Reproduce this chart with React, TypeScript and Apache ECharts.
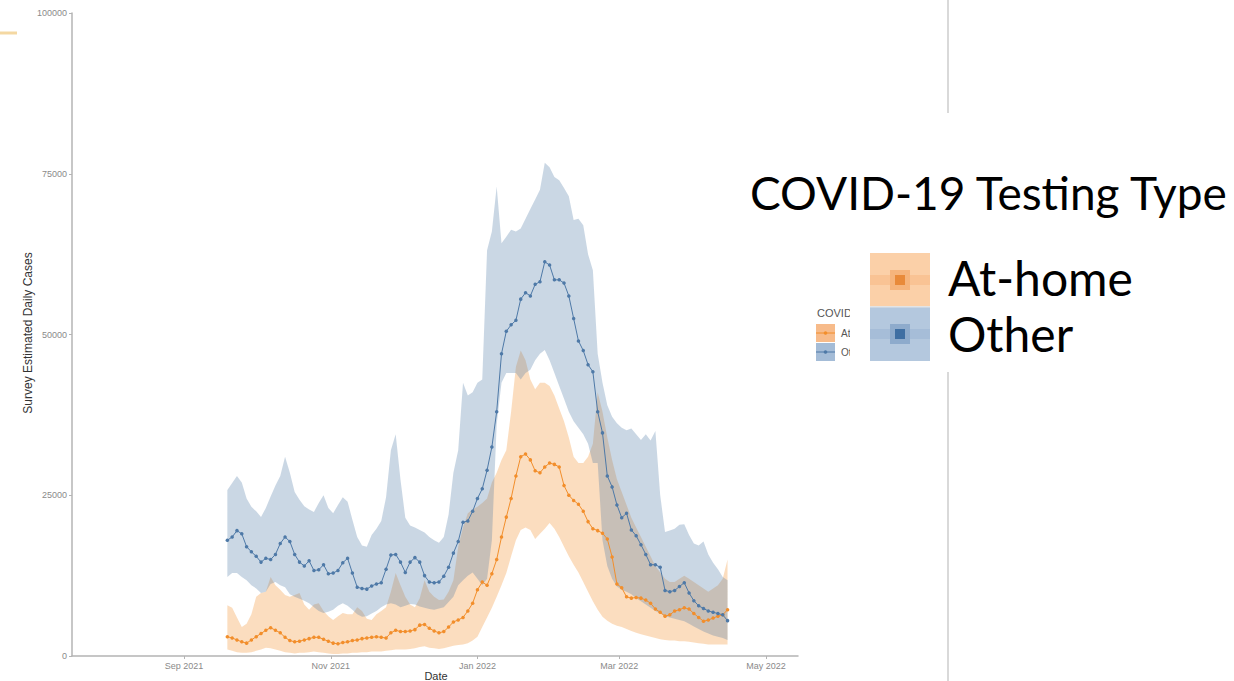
import React, { useEffect, useRef } from "react";
import * as echarts from "echarts";

const DAY = 86400000;
const START_DATE = Date.UTC(2021, 8, 19);
const STEP_DAYS = 2;

// Survey estimated daily cases, in thousands, one value every two days
const homeMean = [
  3.0, 2.8, 2.5, 2.2, 2.0, 2.5, 3.0, 3.5, 4.0, 4.4,
  4.0, 3.6, 2.9, 2.4, 2.2, 2.3, 2.5, 2.7, 2.9, 2.9,
  2.6, 2.3, 2.0, 1.9, 2.1, 2.2, 2.4, 2.5, 2.7, 2.8,
  2.9, 3.0, 2.9, 2.8, 3.6, 4.0, 3.8, 3.8, 3.9, 4.1,
  4.8, 4.9, 4.3, 3.9, 3.6, 3.8, 4.5, 5.3, 5.6, 6.0,
  7.0, 8.2, 10.3, 11.5, 11.0, 12.8, 15.0, 18.5, 21.6, 24.5,
  28.0, 31.0, 31.4, 30.5, 28.8, 28.5, 29.4, 30.0, 29.8, 29.4,
  26.5, 25.0, 24.2, 23.6, 22.5, 20.9, 19.8, 19.5, 19.1, 18.2,
  15.4, 11.2, 10.6, 9.2, 9.0, 9.1, 9.0, 8.7, 8.2, 7.3,
  6.8, 6.2, 6.4, 7.0, 7.2, 7.5, 7.3, 6.6, 6.0, 5.4,
  5.6, 5.9, 6.2, 6.4, 7.2,
];
const homeUpper = [
  7.9, 7.5, 6.0, 4.5, 5.0, 6.5, 9.2, 9.8, 10.0, 12.3,
  11.0, 10.3, 9.5, 9.2, 9.5, 9.8, 8.0, 7.2, 8.0, 8.2,
  7.0, 6.2, 5.6, 6.2, 6.7, 6.5, 6.5, 7.6, 7.0, 5.8,
  5.6, 6.5, 7.0, 7.6, 10.0, 12.9, 11.0, 9.2, 8.0, 7.6,
  9.0, 11.8, 10.0, 9.2, 8.7, 8.8, 10.0, 11.8, 17.0, 20.0,
  22.2, 22.8, 23.2, 23.8, 24.5, 27.0, 28.5, 30.5, 32.0, 38.0,
  45.0, 47.5, 46.0, 43.0, 41.5, 42.5, 42.5, 42.0, 40.5, 38.5,
  36.5, 34.0, 31.0, 30.0, 30.0, 31.0, 33.0, 41.0, 38.0, 34.0,
  30.5, 27.5, 25.5, 23.5, 21.5, 20.0, 18.5, 17.0, 15.5, 14.0,
  13.0, 12.0, 11.5, 11.5, 12.0, 12.5, 12.0, 11.5, 11.0, 10.5,
  10.0, 10.5, 11.0, 12.0, 15.0,
];
const homeLower = [
  1.0, 0.8, 0.6, 0.5, 0.5, 0.6, 0.8, 1.0, 1.3, 1.2,
  1.0, 0.8, 0.6, 0.5, 0.4, 0.5, 0.5, 0.6, 0.7, 0.6,
  0.5, 0.4, 0.3, 0.3, 0.4, 0.4, 0.5, 0.5, 0.6, 0.6,
  0.7, 0.7, 0.7, 0.8, 0.9, 1.0, 1.0, 1.0, 1.1, 1.2,
  1.4, 1.5, 1.3, 1.2, 1.1, 1.2, 1.4, 1.6, 1.7, 1.8,
  2.0, 2.4, 3.0, 4.5, 6.0, 7.5, 9.2, 11.0, 12.9, 15.5,
  18.0, 19.6, 20.0, 19.6, 18.2, 19.0, 19.8, 20.7, 19.8, 18.5,
  17.0, 15.5, 14.2, 13.0, 11.5, 10.0, 8.5, 7.2, 6.1, 5.5,
  5.0, 4.7, 4.5, 4.2, 3.9, 3.6, 3.4, 3.2, 3.0, 2.8,
  2.6, 2.5, 2.4, 2.4, 2.3, 2.3, 2.2, 2.1, 2.0, 1.9,
  1.8, 1.8, 1.8, 1.8, 1.8,
];
const otherMean = [
  18.0, 18.5, 19.5, 19.0, 17.0, 16.2, 15.5, 14.6, 15.2, 15.0,
  15.8, 17.5, 18.5, 17.8, 15.8, 14.6, 14.0, 14.8, 13.3, 13.4,
  14.2, 12.8, 12.9, 13.3, 14.5, 15.2, 12.9, 10.7, 10.5, 10.4,
  10.9, 11.2, 11.4, 13.5, 15.7, 15.8, 14.6, 13.0, 14.6, 15.3,
  14.6, 12.5, 11.5, 11.4, 11.5, 12.4, 13.8, 16.0, 17.8, 20.8,
  21.0, 22.5, 24.5, 26.0, 28.9, 32.5, 38.0, 47.0, 50.5, 51.5,
  52.2, 55.5, 56.5, 56.0, 57.8, 58.2, 61.3, 60.8, 58.5, 58.5,
  58.0, 56.0, 52.5, 49.0, 47.5, 45.3, 44.2, 38.0, 34.7, 28.0,
  26.3, 23.5, 21.5, 22.2, 19.6, 18.7, 17.3, 15.8, 14.2, 14.2,
  13.8, 10.2, 10.0, 10.2, 10.8, 11.4, 9.8, 8.6, 7.8, 7.4,
  7.0, 6.8, 6.6, 6.4, 5.5,
];
const otherUpper = [
  25.8, 26.9, 28.0, 27.0, 24.5, 23.2, 22.5, 21.6, 23.0, 24.8,
  26.5, 28.0, 31.0, 28.5, 25.5, 24.3, 23.3, 22.8, 22.4, 23.8,
  25.0, 23.0, 22.2, 23.5, 24.7, 24.0, 21.2, 18.5, 17.2, 17.0,
  18.8, 19.8, 21.0, 24.7, 32.0, 34.5, 27.4, 21.5, 20.3, 20.0,
  19.6, 19.2, 18.5, 18.0, 17.6, 18.5, 22.0, 28.5, 32.0, 42.5,
  40.5, 41.0, 42.5, 43.0, 63.1, 66.0, 73.0, 64.2, 65.2, 66.3,
  66.0, 66.5, 68.0, 69.5, 71.0, 72.5, 76.7, 76.0, 74.5, 74.0,
  72.8, 71.5, 67.8, 68.0, 67.0, 62.5, 60.0, 47.0, 42.5, 39.0,
  37.2, 36.2, 35.5, 35.1, 35.4, 34.5, 33.6, 34.5, 33.5, 35.0,
  25.0, 19.3, 19.5, 19.8, 20.4, 20.5, 18.8, 17.5, 17.2, 17.8,
  15.8, 14.5, 13.5, 12.3, 11.8,
];
const otherLower = [
  12.3, 12.9, 12.9, 12.3, 11.8, 11.0, 10.5, 9.8, 10.0, 11.2,
  11.5, 11.0, 10.7, 9.6, 9.2, 8.9, 8.6, 8.2, 7.6, 7.0,
  6.7, 6.9, 7.2, 7.8, 8.2, 7.8, 7.2, 6.5, 6.1, 6.2,
  6.6, 7.0, 7.6, 8.0, 8.2, 8.0, 7.6, 7.8, 8.1, 8.0,
  7.7, 7.5, 7.3, 7.2, 7.4, 7.6, 8.4, 9.2, 11.0, 11.8,
  12.5, 13.0, 12.0, 11.0, 12.0, 18.0, 36.0, 42.5, 44.0, 44.0,
  44.0, 43.0, 44.0, 44.5, 46.0, 47.0, 47.6, 46.0, 44.0, 42.0,
  40.0, 38.0, 36.5, 35.5, 34.5, 33.0, 30.0, 30.0, 18.0, 14.0,
  12.0, 10.8, 10.3, 10.0, 9.6, 9.0, 8.5, 8.0, 7.5, 7.0,
  6.6, 6.2, 6.0, 5.8, 5.6, 5.4, 5.0, 4.6, 4.2, 3.8,
  3.5, 3.2, 3.0, 2.8, 2.5,
];

const xTickDates = [
  Date.UTC(2021, 8, 1),
  Date.UTC(2021, 10, 1),
  Date.UTC(2022, 0, 1),
  Date.UTC(2022, 2, 1),
  Date.UTC(2022, 4, 1),
];
const X_MIN = Date.UTC(2021, 8, 1) - 46.6 * DAY;
const X_MAX = Date.UTC(2022, 4, 1) + 13.3 * DAY;
const yTicks = [0, 25000, 50000, 75000, 100000];
const MONTHS = ["Jan", "Feb", "Mar", "Apr", "May", "Jun", "Jul", "Aug", "Sep", "Oct", "Nov", "Dec"];

const legendTitle = "COVID-19 Testing Type";
const legendLabels = ["At-home", "Other"];
const ORANGE = "#F28E2B";
const BLUE = "#4E79A7";

const dateAt = (i: number) => START_DATE + i * STEP_DAYS * DAY;
const pairs = (arr: number[]) => arr.map((v, i) => [dateAt(i), v * 1000]);
const bandRows = (lo: number[], hi: number[]) => lo.map((v, i) => [dateAt(i), v * 1000, hi[i] * 1000]);

const AXIS_GREY = "#b4b4b4";
const LABEL_GREY = "#8a8a8a";
const SMALL_FONT = '"Liberation Sans", Arial, sans-serif';
const BIG_FONT = 'Lato, "Noto Sans", sans-serif';

// Confidence ribbon: one polygon running along the upper bound and back along the lower bound
function ribbon(lo: number[], hi: number[], fill: string) {
  return {
    type: "custom",
    silent: true,
    clip: true,
    z: 1,
    data: bandRows(lo, hi),
    encode: { x: 0, y: [1, 2] },
    renderItem: (params: any, api: any) => {
      if (params.dataIndex !== 0) return null;
      const pts: number[][] = [];
      for (let i = 0; i < hi.length; i++) pts.push(api.coord([dateAt(i), hi[i] * 1000]));
      for (let i = lo.length - 1; i >= 0; i--) pts.push(api.coord([dateAt(i), lo[i] * 1000]));
      return { type: "polygon", shape: { points: pts }, style: { fill } };
    },
  };
}

function bigKey(y: number, c: { outer: string; band: string; mid: string; dot: string }) {
  return [
    { type: "rect", shape: { x: 870, y, width: 60, height: 54 }, style: { fill: c.outer } },
    { type: "rect", shape: { x: 870, y: y + 22, width: 60, height: 10 }, style: { fill: c.band } },
    { type: "rect", shape: { x: 890, y: y + 17, width: 20, height: 20 }, style: { fill: c.mid } },
    { type: "rect", shape: { x: 895, y: y + 22, width: 10, height: 10 }, style: { fill: c.dot } },
  ];
}

export default function App() {
  const ref = useRef<HTMLDivElement>(null);

  useEffect(() => {
    if (!ref.current) return;
    const chart = echarts.init(ref.current, null, { renderer: "svg" });

    const graphic: any[] = [
      { type: "line", shape: { x1: 0, y1: 33, x2: 17, y2: 33 }, style: { stroke: "#f4d8a2", lineWidth: 3 } },
      { type: "line", shape: { x1: 948, y1: 0, x2: 948, y2: 681 }, style: { stroke: "#cdcdcd", lineWidth: 1.5 } },
      {
        type: "text",
        x: 28,
        y: 333,
        rotation: Math.PI / 2,
        style: {
          text: "Survey Estimated Daily Cases",
          font: `12px ${SMALL_FONT}`,
          fill: "#333",
          align: "center",
          verticalAlign: "middle",
        },
      },
      {
        type: "text",
        x: 436,
        y: 676,
        style: { text: "Date", font: `11px ${SMALL_FONT}`, fill: "#333", align: "center", verticalAlign: "middle" },
      },
      // compact legend
      {
        type: "text",
        x: 817,
        y: 313,
        style: { text: legendTitle, font: `11px ${SMALL_FONT}`, fill: "#555", verticalAlign: "middle" },
      },
      { type: "rect", shape: { x: 816, y: 324, width: 19, height: 18 }, style: { fill: "#f7bb8a" } },
      { type: "line", shape: { x1: 816, y1: 333, x2: 835, y2: 333 }, style: { stroke: ORANGE, lineWidth: 1 } },
      { type: "circle", shape: { cx: 825.5, cy: 333, r: 1.8 }, style: { fill: ORANGE } },
      { type: "rect", shape: { x: 816, y: 343, width: 19, height: 18 }, style: { fill: "#a4bcd7" } },
      { type: "line", shape: { x1: 816, y1: 352, x2: 835, y2: 352 }, style: { stroke: BLUE, lineWidth: 1 } },
      { type: "circle", shape: { cx: 825.5, cy: 352, r: 1.8 }, style: { fill: BLUE } },
      {
        type: "text",
        x: 841,
        y: 333,
        style: { text: legendLabels[0], font: `10px ${SMALL_FONT}`, fill: "#555", verticalAlign: "middle" },
      },
      {
        type: "text",
        x: 841,
        y: 352,
        style: { text: legendLabels[1], font: `10px ${SMALL_FONT}`, fill: "#555", verticalAlign: "middle" },
      },
      // enlarged legend panel
      { type: "rect", shape: { x: 850, y: 113, width: 384, height: 259 }, style: { fill: "#ffffff" } },
      ...bigKey(253, { outer: "#fbd0a8", band: "#f9c394", mid: "#f6b47c", dot: "#e98a3a" }),
      ...bigKey(307, { outer: "#b4c8de", band: "#a6bdd8", mid: "#8eabcc", dot: "#3f6fa3" }),
      { type: "rect", shape: { x: 870, y: 306, width: 60, height: 1.5 }, style: { fill: "#e4e4e4" } },
      {
        type: "text",
        x: 750,
        y: 192,
        style: { text: legendTitle, font: `46px ${BIG_FONT}`, fill: "#000", verticalAlign: "middle" },
      },
      {
        type: "text",
        x: 948,
        y: 277,
        style: { text: legendLabels[0], font: `48px ${BIG_FONT}`, fill: "#000", verticalAlign: "middle" },
      },
      {
        type: "text",
        x: 948,
        y: 333,
        style: { text: legendLabels[1], font: `48px ${BIG_FONT}`, fill: "#000", verticalAlign: "middle" },
      },
    ];

    chart.setOption({
      animation: false,
      backgroundColor: "#ffffff",
      grid: { left: 72, right: 436, top: 13, bottom: 25, containLabel: false },
      xAxis: {
        type: "value",
        min: X_MIN,
        max: X_MAX,
        splitLine: { show: false },
        axisLine: { show: true, lineStyle: { color: AXIS_GREY, width: 1.5 } },
        axisTick: { show: true, length: 3, customValues: xTickDates, lineStyle: { color: AXIS_GREY } },
        axisLabel: {
          customValues: xTickDates,
          margin: 5,
          fontSize: 9,
          color: LABEL_GREY,
          fontFamily: SMALL_FONT,
          formatter: (v: number) => {
            const d = new Date(v);
            return `${MONTHS[d.getUTCMonth()]} ${d.getUTCFullYear()}`;
          },
        },
      },
      yAxis: {
        type: "value",
        min: yTicks[0],
        max: yTicks[yTicks.length - 1],
        interval: yTicks[1] - yTicks[0],
        splitLine: { show: false },
        axisLine: { show: true, lineStyle: { color: AXIS_GREY, width: 1.5 } },
        axisTick: { show: true, length: 3, lineStyle: { color: AXIS_GREY } },
        axisLabel: {
          margin: 5,
          fontSize: 9,
          color: LABEL_GREY,
          fontFamily: SMALL_FONT,
          formatter: (v: number) => String(v),
        },
      },
      series: [
        ribbon(homeLower, homeUpper, "rgba(242,142,43,0.3)"),
        ribbon(otherLower, otherUpper, "rgba(78,121,167,0.3)"),
        {
          type: "line",
          name: legendLabels[0],
          data: pairs(homeMean),
          symbol: "circle",
          symbolSize: 3.5,
          itemStyle: { color: ORANGE },
          lineStyle: { color: ORANGE, width: 1 },
          z: 3,
        },
        {
          type: "line",
          name: legendLabels[1],
          data: pairs(otherMean),
          symbol: "circle",
          symbolSize: 3.5,
          itemStyle: { color: BLUE },
          lineStyle: { color: BLUE, width: 1 },
          z: 4,
        },
      ],
      graphic,
    });

    return () => chart.dispose();
  }, []);

  return (
    <div
      ref={ref}
      style={{ position: "fixed", left: 0, top: 0, width: 1234, height: 681, background: "#fff" }}
    />
  );
}
